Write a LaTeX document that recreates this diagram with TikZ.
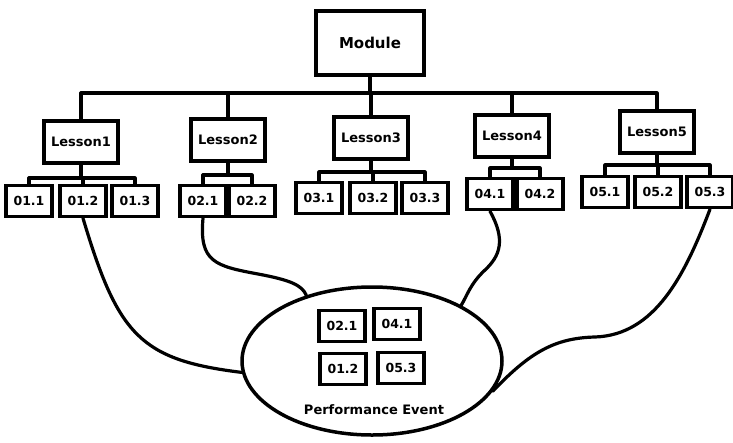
\documentclass[tikz,border=0pt]{standalone}
\usepackage{fontspec}
\setmainfont{DejaVu Sans}
\usetikzlibrary{shapes.geometric}
\begin{document}
\begin{tikzpicture}[x=1pt,y=-1pt,
  box/.style={draw, line width=3.5pt, inner sep=1pt,
    font=\bfseries\fontsize{12.5}{13}\selectfont},
  modbox/.style={box, minimum width=108pt, minimum height=64pt,
    font=\bfseries\fontsize{15}{16}\selectfont},
  lessonbox/.style={box, minimum width=74pt, minimum height=42pt,
    font=\bfseries\fontsize{13}{14}\selectfont},
  leaf/.style={box, minimum width=46pt, minimum height=31pt},
  link/.style={line width=3.2pt, line join=round, line cap=round},
  event/.style={ellipse, draw, line width=3.5pt, minimum width=260pt,
    minimum height=148pt, inner sep=0pt},
  caption/.style={font=\bfseries\fontsize{13}{14}\selectfont}
]
\useasboundingbox (0,0) rectangle (733,442);

% module and lessons
\node[modbox] (mod) at (370,43) {Module};
\node[lessonbox] (L1) at (81,142) {Lesson1};
\node[lessonbox] (L2) at (228,140) {Lesson2};
\node[lessonbox] (L3) at (371,138) {Lesson3};
\node[lessonbox] (L4) at (512,136) {Lesson4};
\node[lessonbox] (L5) at (657,132) {Lesson5};

% lesson parts
\node[leaf] (l11) at (29,201) {01.1};
\node[leaf] (l12) at (83,201) {01.2};
\node[leaf] (l13) at (135,201) {01.3};
\node[leaf] (l21) at (203,201) {02.1};
\node[leaf] (l22) at (252,201) {02.2};
\node[leaf] (l31) at (319,198) {03.1};
\node[leaf] (l32) at (373,198) {03.2};
\node[leaf] (l33) at (425,198) {03.3};
\node[leaf] (l41) at (490,194) {04.1};
\node[leaf] (l42) at (540,194) {04.2};
\node[leaf] (l51) at (605,192) {05.1};
\node[leaf] (l52) at (658,192) {05.2};
\node[leaf] (l53) at (710,192) {05.3};

% bus coordinates
\coordinate (bus) at (370,93);
\coordinate (b1) at (0,178);
\coordinate (b2) at (0,175);
\coordinate (b3) at (0,172);
\coordinate (b4) at (0,168);
\coordinate (b5) at (0,165);

% module to lessons
\draw[link] (mod.south) -- (bus);
\draw[link] (L1.north) -- (L1.north |- bus) -- (L5.north |- bus) -- (L5.north);
\draw[link] (L2.north) -- (L2.north |- bus);
\draw[link] (L3.north) -- (L3.north |- bus);
\draw[link] (L4.north) -- (L4.north |- bus);

% lessons to parts
\draw[link] (L1.south) -- (L1.south |- b1);
\draw[link] (l11.north) -- (l11.north |- b1) -- (l13.north |- b1) -- (l13.north);
\draw[link] (l12.north) -- (l12.north |- b1);

\draw[link] (L2.south) -- (L2.south |- b2);
\draw[link] (l21.north) -- (l21.north |- b2) -- (l22.north |- b2) -- (l22.north);

\draw[link] (L3.south) -- (L3.south |- b3);
\draw[link] (l31.north) -- (l31.north |- b3) -- (l33.north |- b3) -- (l33.north);
\draw[link] (l32.north) -- (l32.north |- b3);

\draw[link] (L4.south) -- (L4.south |- b4);
\draw[link] (l41.north) -- (l41.north |- b4) -- (l42.north |- b4) -- (l42.north);

\draw[link] (L5.south) -- (L5.south |- b5);
\draw[link] (l51.north) -- (l51.north |- b5) -- (l53.north |- b5) -- (l53.north);
\draw[link] (l52.north) -- (l52.north |- b5);

% performance event
\node[event] (pe) at (372,361) {};
\node[leaf] (p21) at (342,326) {02.1};
\node[leaf] (p41) at (397,324) {04.1};
\node[leaf] (p12) at (343,369) {01.2};
\node[leaf] (p53) at (401,368) {05.3};
\node[caption] (pel) at (374,410) {Performance Event};

% parts feeding the event
\draw[link] (l12.south) .. controls (118,335) and (140,360) .. (pe.185);
\draw[link] (l21.south) .. controls (199,262) and (215,266) .. (258,274)
  .. controls (290,280) and (302,285) .. (pe.135);
\draw[link] (l41.south) .. controls (506,240) and (500,256) .. (485,270)
  .. controls (470,284) and (467,296) .. (pe.32);
\draw[link] (l53.south) .. controls (685,275) and (655,335) .. (595,337)
  .. controls (555,338) and (530,352) .. (pe.-14);
\end{tikzpicture}
\end{document}
